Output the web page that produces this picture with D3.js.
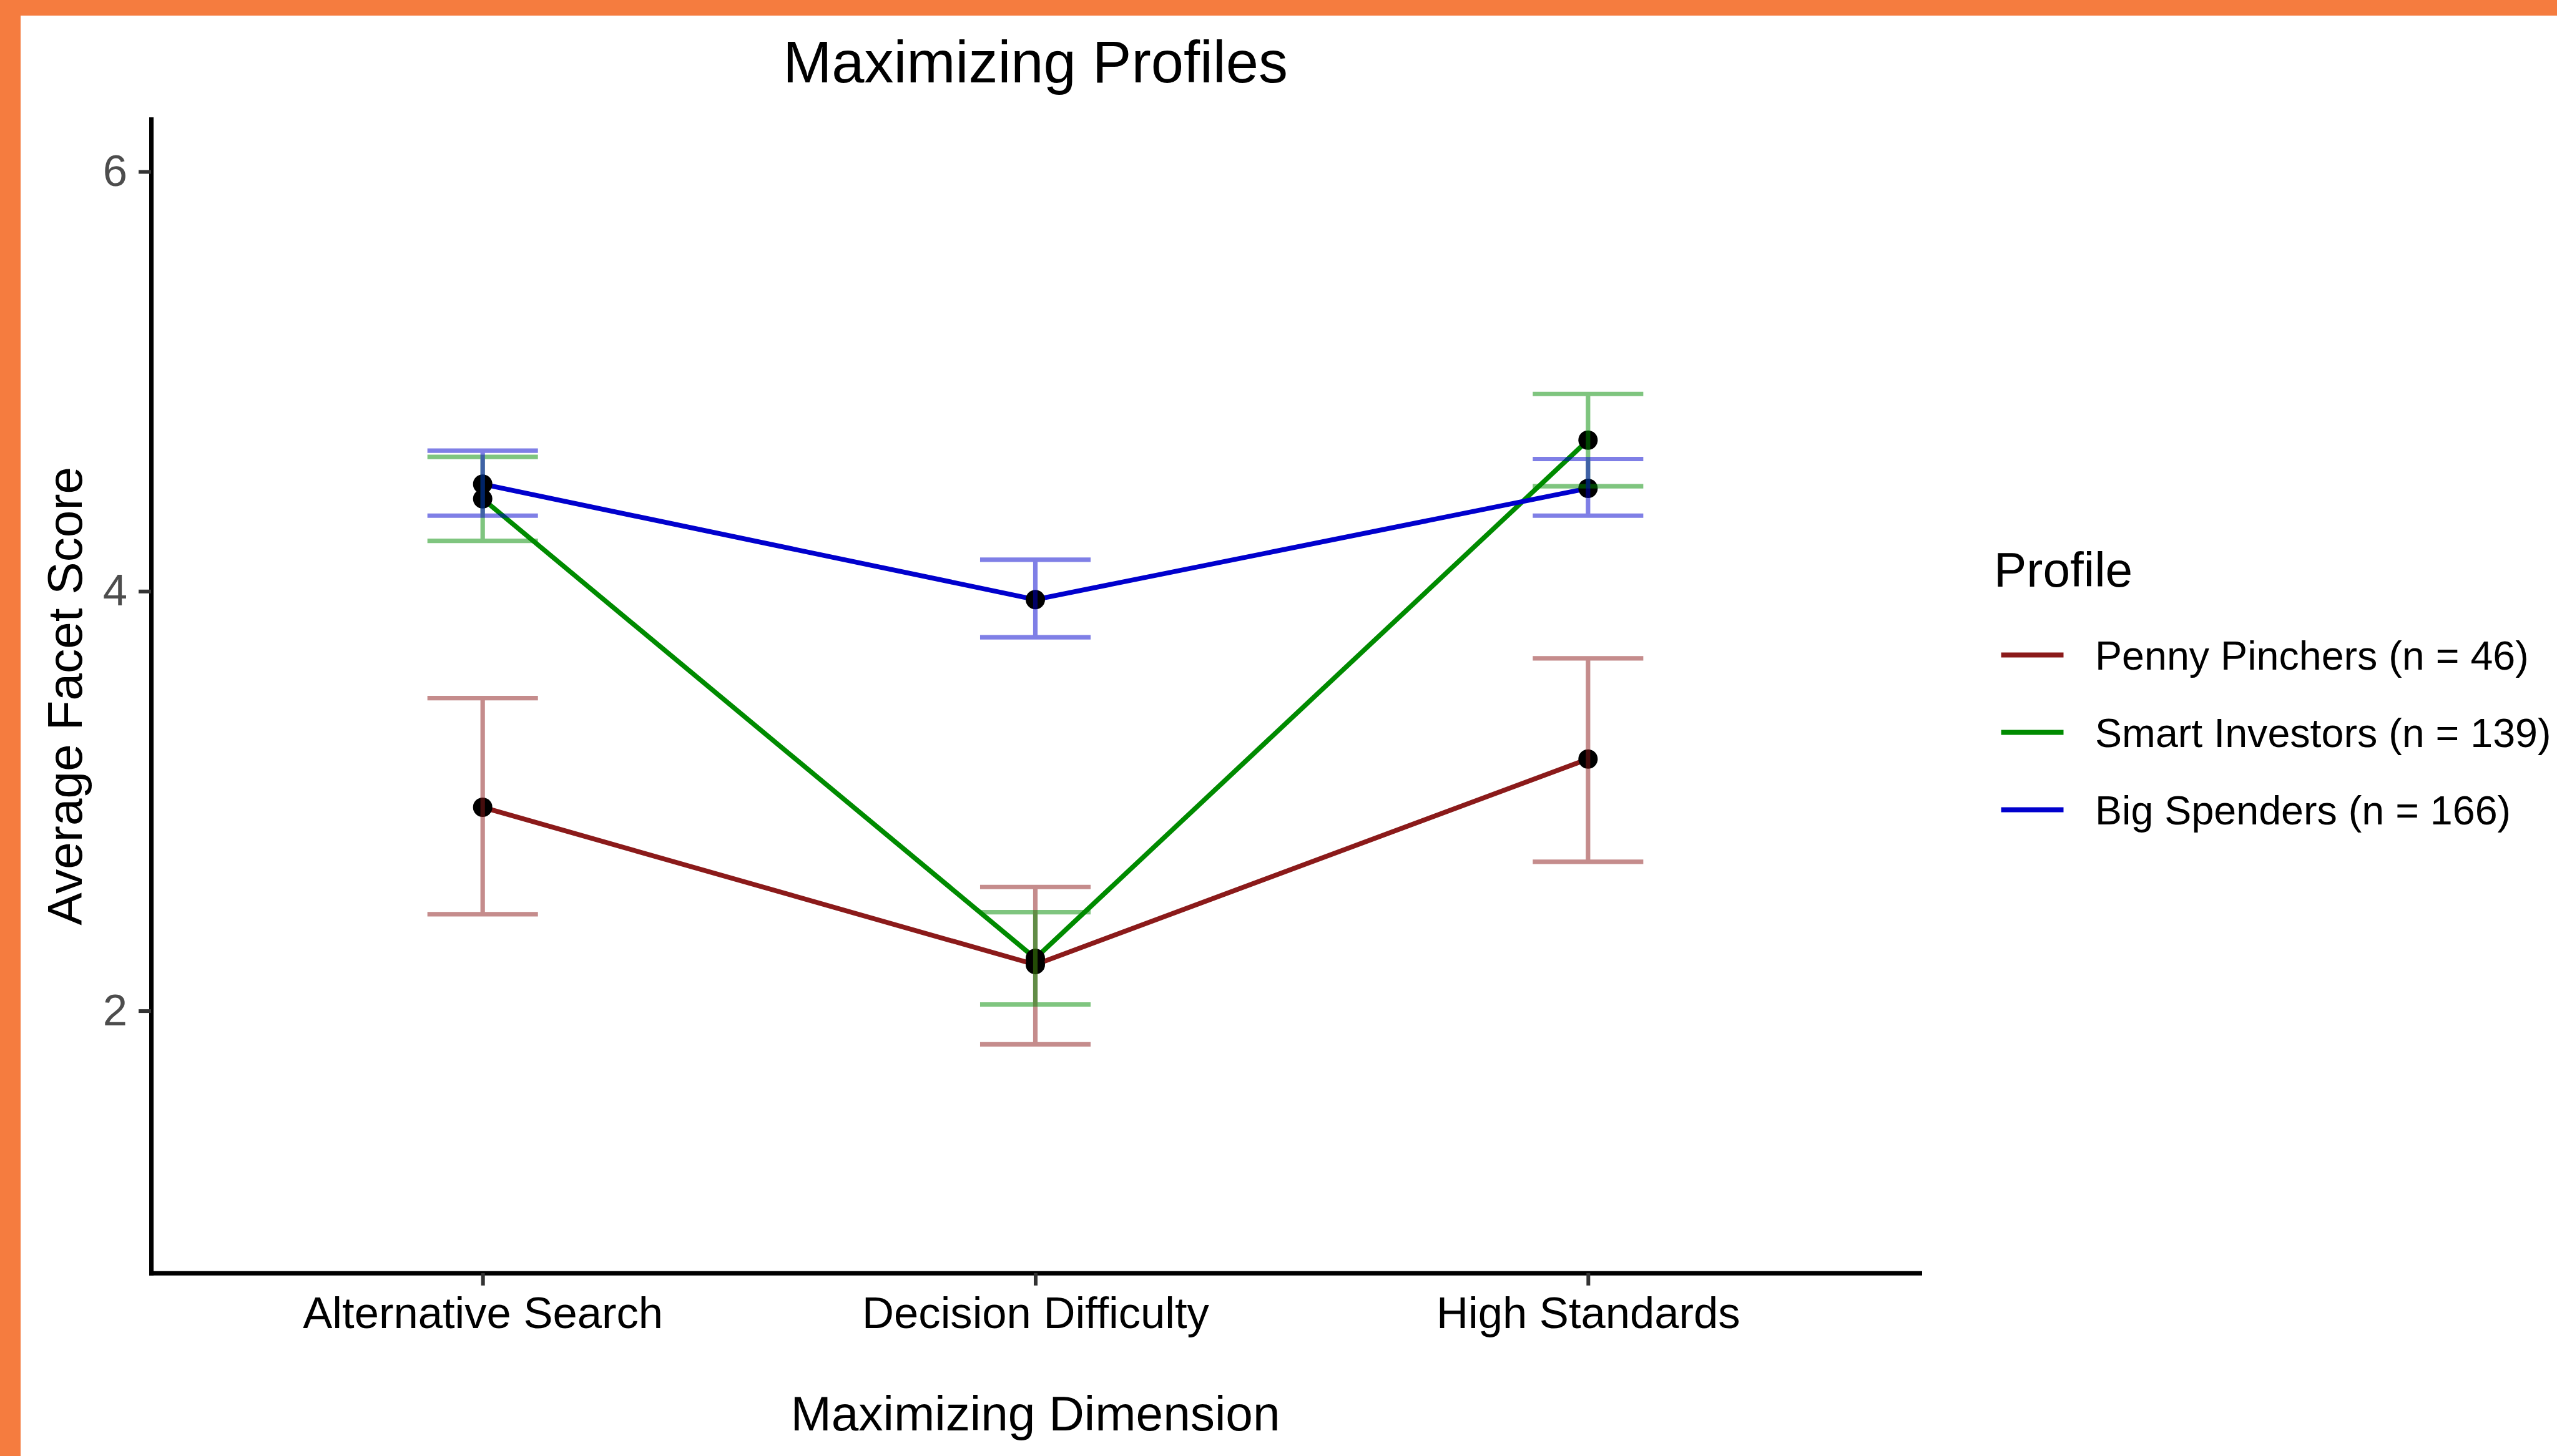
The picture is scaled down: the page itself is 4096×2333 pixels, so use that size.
<!DOCTYPE html>
<html>
<head>
<meta charset="utf-8">
<script src="https://cdn.jsdelivr.net/npm/d3@7"></script>
<style>
  body { margin: 0; background: #fff; }
  svg { display: block; }
  text { font-family: "Liberation Sans", Arial, Helvetica, sans-serif; }
</style>
</head>
<body>
<svg id="chart"></svg>
<script>
// values
const dimensions = ['Alternative Search', 'Decision Difficulty', 'High Standards'];
const profiles = ['Penny Pinchers (n = 46)', 'Smart Investors (n = 139)', 'Big Spenders (n = 166)'];

const pennyMean  = [2.97, 2.22, 3.20];
const pennyLower = [2.46, 1.84, 2.71];
const pennyUpper = [3.49, 2.59, 3.68];

const smartMean  = [4.44, 2.25, 4.72];
const smartLower = [4.24, 2.03, 4.50];
const smartUpper = [4.64, 2.47, 4.94];

const bigMean  = [4.51, 3.96, 4.49];
const bigLower = [4.36, 3.78, 4.36];
const bigUpper = [4.67, 4.15, 4.63];

const yLimits = [1, 6];
const yTicks = [2, 4, 6];

class profileChart {
    constructor(_config, _data) {
        this.config = {
            parentElement: _config.parentElement,
            containerWidth: _config.containerWidth || 4096,
            containerHeight: _config.containerHeight || 2333,
            margin: {top: 190.9, right: 1021, bottom: 293.2, left: 242},
            colors: _config.colors
        };
        this.data = _data;
        this.initVis();
    }

    initVis() {
        let vis = this;

        vis.width = vis.config.containerWidth - vis.config.margin.left - vis.config.margin.right;
        vis.height = vis.config.containerHeight - vis.config.margin.top - vis.config.margin.bottom;

        // ggplot style: discrete axis padded 0.6, continuous limits expanded 5%
        vis.xScale = d3.scalePoint()
            .domain(dimensions)
            .range([0, vis.width])
            .padding(0.6);

        const pad = (yLimits[1] - yLimits[0]) * 0.05;
        vis.yScale = d3.scaleLinear()
            .domain([yLimits[0] - pad, yLimits[1] + pad])
            .range([vis.height, 0]);

        vis.colorScale = d3.scaleOrdinal()
            .domain(profiles)
            .range(vis.config.colors);

        vis.xAxis = d3.axisBottom(vis.xScale)
            .tickSize(20)
            .tickSizeOuter(0)
            .tickPadding(17.8);

        vis.yAxis = d3.axisLeft(vis.yScale)
            .tickValues(yTicks)
            .tickFormat(d3.format('d'))
            .tickSize(20)
            .tickSizeOuter(0)
            .tickPadding(18);

        vis.svg = d3.select(vis.config.parentElement)
            .attr('width', vis.config.containerWidth)
            .attr('height', vis.config.containerHeight);

        // orange frame on the top and left edges
        vis.svg.append('rect')
            .attr('x', 0).attr('y', 0)
            .attr('width', vis.config.containerWidth).attr('height', 25)
            .attr('fill', '#f57c3f');
        vis.svg.append('rect')
            .attr('x', 0).attr('y', 0)
            .attr('width', 33).attr('height', vis.config.containerHeight)
            .attr('fill', '#f57c3f');

        vis.chart = vis.svg.append('g')
            .attr('transform', `translate(${vis.config.margin.left},${vis.config.margin.top})`);

        vis.xAxisG = vis.chart.append('g')
            .attr('class', 'axis x-axis')
            .attr('transform', `translate(0,${vis.height})`);

        vis.yAxisG = vis.chart.append('g')
            .attr('class', 'axis y-axis');

        vis.marks = vis.chart.append('g');

        // titles
        vis.svg.append('text')
            .attr('x', vis.config.margin.left + vis.width / 2)
            .attr('y', 131.5)
            .attr('text-anchor', 'middle')
            .attr('font-size', 93.9)
            .attr('fill', '#000')
            .text('Maximizing Profiles');

        vis.svg.append('text')
            .attr('x', vis.config.margin.left + vis.width / 2)
            .attr('y', 2292)
            .attr('text-anchor', 'middle')
            .attr('font-size', 78.4)
            .attr('fill', '#000')
            .text('Maximizing Dimension');

        vis.svg.append('text')
            .attr('transform', `translate(131,${vis.config.margin.top + vis.height / 2}) rotate(-90)`)
            .attr('text-anchor', 'middle')
            .attr('font-size', 78.4)
            .attr('fill', '#000')
            .text('Average Facet Score');

        vis.legend = vis.svg.append('g')
            .attr('transform', 'translate(3194,0)');
    }

    updateVis() {
        let vis = this;

        vis.xValue = d => d.dimension;
        vis.yValue = d => d.mean;

        vis.line = d3.line()
            .x(d => vis.xScale(vis.xValue(d)))
            .y(d => vis.yScale(vis.yValue(d)));

        vis.capHalf = vis.xScale.step() * 0.1;

        vis.renderVis();
    }

    renderVis() {
        let vis = this;

        // lines
        vis.marks.selectAll('.chart-line')
            .data(vis.data)
            .join('path')
            .attr('class', 'chart-line')
            .attr('d', d => vis.line(d.values))
            .attr('fill', 'none')
            .attr('stroke', d => vis.colorScale(d.profile))
            .attr('stroke-width', 7.7)
            .attr('stroke-linejoin', 'round');

        // points
        const allPoints = vis.data.flatMap(d => d.values.map(v => ({...v, profile: d.profile})));
        vis.marks.selectAll('.dot')
            .data(allPoints)
            .join('circle')
            .attr('class', 'dot')
            .attr('cx', d => vis.xScale(vis.xValue(d)))
            .attr('cy', d => vis.yScale(vis.yValue(d)))
            .attr('r', 15.5)
            .attr('fill', '#000');

        // error bars, half transparent, drawn last like the original
        vis.marks.selectAll('.errorbar')
            .data(allPoints)
            .join('path')
            .attr('class', 'errorbar')
            .attr('d', d => {
                const x = vis.xScale(d.dimension);
                const yHi = vis.yScale(d.upper);
                const yLo = vis.yScale(d.lower);
                const p = d3.path();
                p.moveTo(x - vis.capHalf, yHi);
                p.lineTo(x + vis.capHalf, yHi);
                p.lineTo(x, yHi);
                p.lineTo(x, yLo);
                p.lineTo(x - vis.capHalf, yLo);
                p.lineTo(x + vis.capHalf, yLo);
                return p.toString();
            })
            .attr('fill', 'none')
            .attr('stroke', d => vis.colorScale(d.profile))
            .attr('stroke-opacity', 0.5)
            .attr('stroke-width', 7.2);

        // axes
        vis.xAxisG.call(vis.xAxis);
        vis.yAxisG.call(vis.yAxis);

        vis.chart.selectAll('.axis .domain')
            .attr('stroke', '#000')
            .attr('stroke-width', 7)
            .attr('stroke-linecap', 'square');
        vis.chart.selectAll('.axis .tick line')
            .attr('stroke', '#333')
            .attr('stroke-width', 6);
        vis.xAxisG.selectAll('.tick text')
            .attr('font-size', 70.6)
            .attr('font-family', '"Liberation Sans", Arial, sans-serif')
            .attr('fill', '#000');
        vis.yAxisG.selectAll('.tick text')
            .attr('font-size', 70.6)
            .attr('font-family', '"Liberation Sans", Arial, sans-serif')
            .attr('fill', '#4d4d4d');

        // legend
        vis.legend.append('text')
            .attr('x', 0)
            .attr('y', 940)
            .attr('font-size', 78.4)
            .attr('fill', '#000')
            .text('Profile');

        const keyY = d3.scalePoint().domain(profiles).range([1049.6, 1297.6]);
        const items = vis.legend.selectAll('.legend-item')
            .data(profiles)
            .join('g')
            .attr('class', 'legend-item')
            .attr('transform', d => `translate(0,${keyY(d)})`);

        items.append('line')
            .attr('x1', 11.6).attr('x2', 111.5)
            .attr('y1', 0).attr('y2', 0)
            .attr('stroke', d => vis.colorScale(d))
            .attr('stroke-width', 8);

        items.append('text')
            .attr('x', 162)
            .attr('y', 23.3)
            .attr('font-size', 64.6)
            .attr('fill', '#000')
            .text(d => d);
    }
}

const seriesMeans = [pennyMean, smartMean, bigMean];
const seriesLower = [pennyLower, smartLower, bigLower];
const seriesUpper = [pennyUpper, smartUpper, bigUpper];

const data = profiles.map((p, i) => ({
    profile: p,
    values: dimensions.map((dim, j) => ({
        dimension: dim,
        mean: seriesMeans[i][j],
        lower: seriesLower[i][j],
        upper: seriesUpper[i][j]
    }))
}));

const chart = new profileChart({
    parentElement: '#chart',
    containerWidth: 4096,
    containerHeight: 2333,
    colors: ['#8b1a1a', '#008b00', '#0000cd']
}, data);
chart.updateVis();
</script>
</body>
</html>
